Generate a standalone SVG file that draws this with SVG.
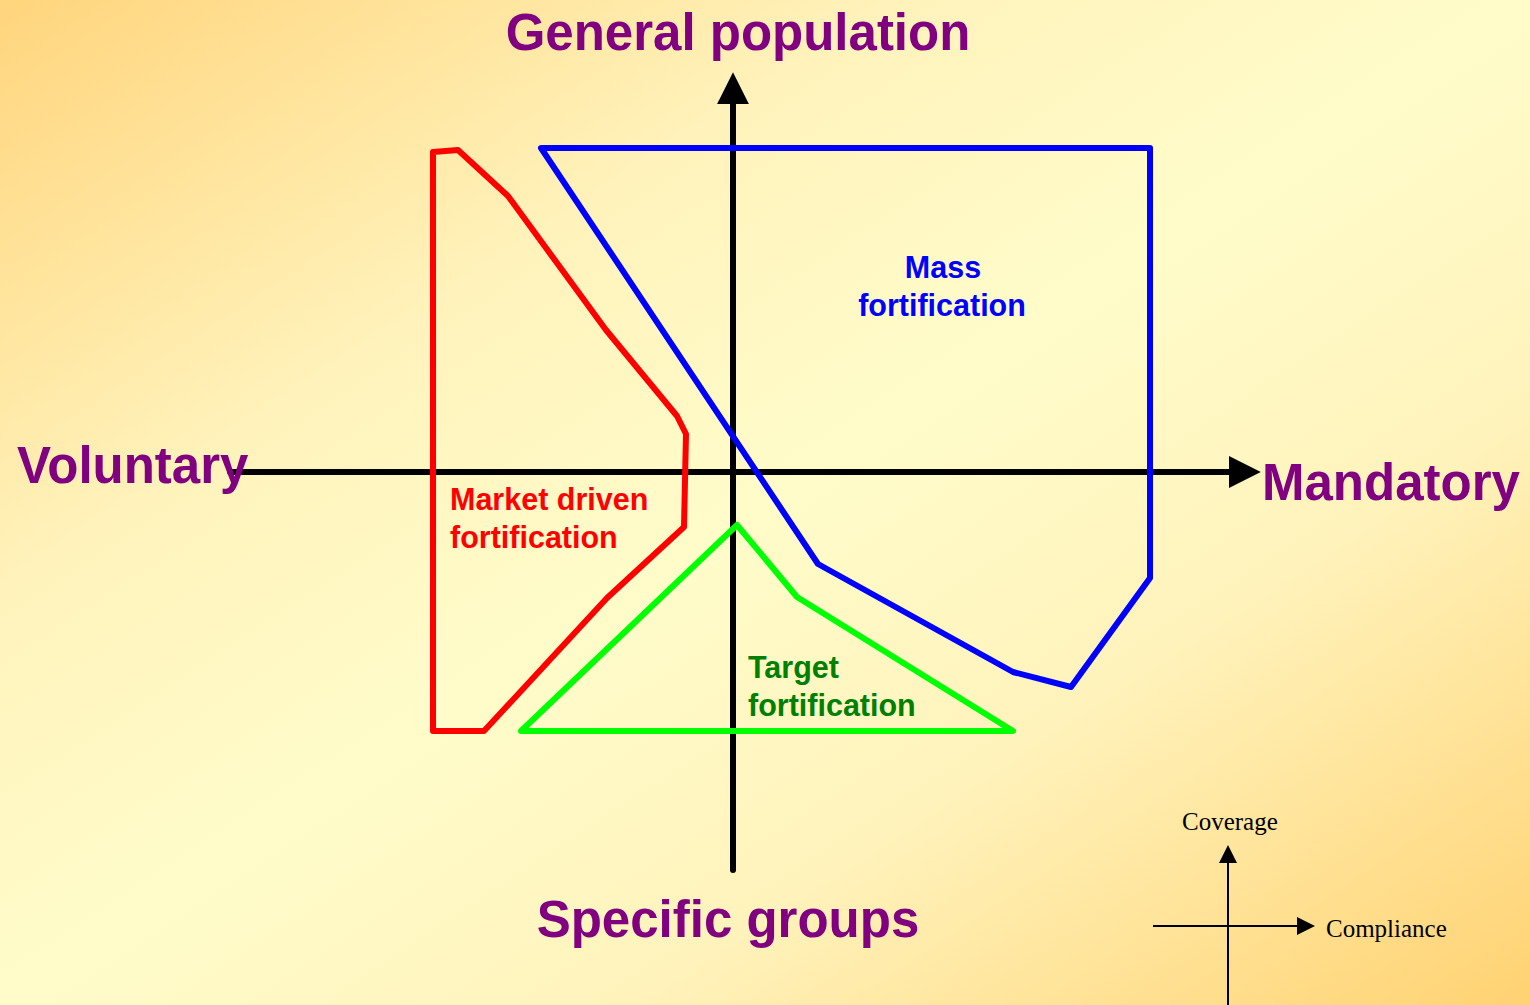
<svg xmlns="http://www.w3.org/2000/svg" width="1530" height="1005" viewBox="0 0 1530 1005">
  <defs>
    <linearGradient id="bg" x1="0" y1="0" x2="1" y2="1">
      <stop offset="0" stop-color="#FFD57D"/>
      <stop offset="0.3" stop-color="#FFF3BC"/>
      <stop offset="0.5" stop-color="#FFFCCA"/>
      <stop offset="0.7" stop-color="#FFF3BC"/>
      <stop offset="1" stop-color="#FFD272"/>
    </linearGradient>
    <marker id="bigArrow" viewBox="0 0 10 10" refX="0" refY="5" markerWidth="5.3" markerHeight="5.3" markerUnits="strokeWidth" orient="auto">
      <path d="M0,0 L10,5 L0,10 Z" fill="#000"/>
    </marker>
    <marker id="smallArrow" viewBox="0 0 10 10" refX="0" refY="5" markerWidth="9" markerHeight="10" markerUnits="strokeWidth" orient="auto">
      <path d="M0,0 L10,5 L0,10 Z" fill="#000"/>
    </marker>
  </defs>
  <style>
    .axisLabel { font-family: "Liberation Sans", Arial, sans-serif; font-weight: bold; font-size: 51px; fill: #800080; }
    .regionLabel { font-family: "Liberation Sans", Arial, sans-serif; font-weight: bold; font-size: 30.5px; }
    .small { font-family: "Liberation Serif", "Times New Roman", serif; font-size: 25px; fill: #000; }
    .shape { fill: none; stroke-width: 6; stroke-linejoin: round; stroke-linecap: round; }
  </style>
  <rect x="0" y="0" width="1530" height="1005" fill="url(#bg)"/>

  <g id="connectors">
    <line x1="230" y1="472" x2="1229" y2="472" stroke="#000" stroke-width="6" stroke-linecap="round" marker-end="url(#bigArrow)"/>
    <line x1="733" y1="870" x2="733" y2="104" stroke="#000" stroke-width="6" stroke-linecap="round" marker-end="url(#bigArrow)"/>
  </g>

  <g id="market-driven">
    <polygon class="shape" stroke="#FF0000" points="458,150 508,196 606,330 677,416 686,434 684,527 607,598 484,731 433,731 433,152"/>
    <text class="regionLabel" fill="#FF0000" x="450" y="510">Market driven</text>
    <text class="regionLabel" fill="#FF0000" x="450" y="548">fortification</text>
  </g>

  <g id="mass">
    <polygon class="shape" stroke="#0000FF" points="541,148 1150,148 1150,578 1071,687 1013,672 818,564"/>
    <text class="regionLabel" fill="#0000FF" x="943" y="278" text-anchor="middle">Mass</text>
    <text class="regionLabel" fill="#0000FF" x="942" y="316" text-anchor="middle">fortification</text>
  </g>

  <g id="target">
    <polygon class="shape" stroke="#00FF00" points="737,525 797,597 1013,731 521,731"/>
    <text class="regionLabel" fill="#008000" x="748" y="678">Target</text>
    <text class="regionLabel" fill="#008000" x="748" y="716">fortification</text>
  </g>

  <g id="axis-labels">
    <text class="axisLabel" x="738" y="50" text-anchor="middle" font-size="52">General population</text>
    <text class="axisLabel" x="17" y="483">Voluntary</text>
    <text class="axisLabel" x="1262" y="500">Mandatory</text>
    <text class="axisLabel" x="728" y="937" text-anchor="middle">Specific groups</text>
  </g>

  <g id="legend">
    <line x1="1153" y1="926" x2="1297" y2="926" stroke="#000" stroke-width="2" marker-end="url(#smallArrow)"/>
    <line x1="1228" y1="1005" x2="1228" y2="863" stroke="#000" stroke-width="2" marker-end="url(#smallArrow)"/>
    <text class="small" x="1182" y="830">Coverage</text>
    <text class="small" x="1326" y="937">Compliance</text>
  </g>
</svg>
